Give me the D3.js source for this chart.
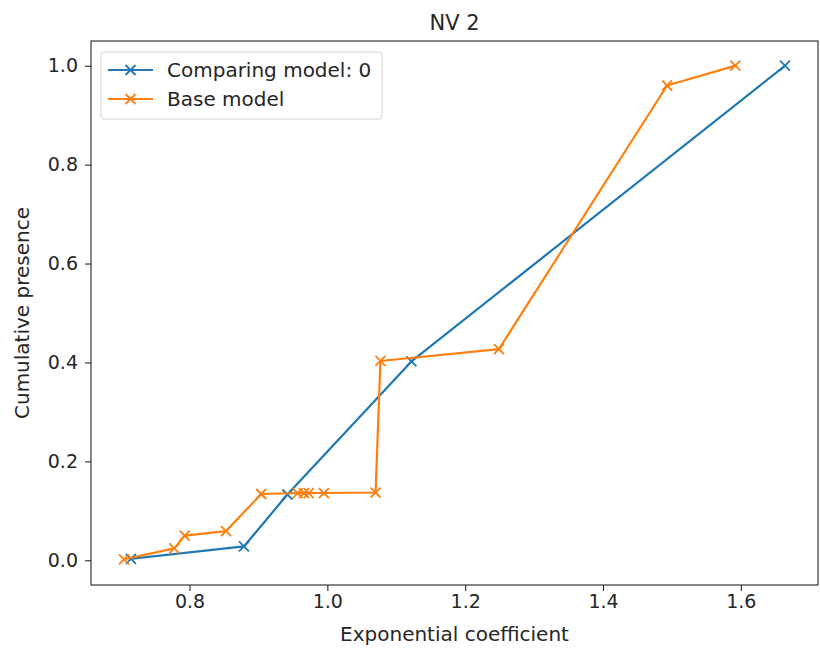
<!DOCTYPE html>
<html>
<head>
    <meta charset="utf-8">
    <script src="https://d3js.org/d3.v7.min.js"></script>
    <style>
        body { margin: 0; background: #fff; }
        text { font-family: "DejaVu Sans", sans-serif; fill: #262626; }
    </style>
</head>
<body>
<script>
    // data
    var comparingX = [0.715, 0.879, 0.942, 1.122, 1.664];
    var comparingY = [0.003, 0.028, 0.133, 0.402, 1.0];

    var baseX = [0.705, 0.778, 0.793, 0.853, 0.904, 0.957, 0.966, 0.973, 0.995, 1.070, 1.077, 1.249, 1.493, 1.592];
    var baseY = [0.002, 0.024, 0.050, 0.059, 0.134, 0.136, 0.136, 0.136, 0.136, 0.137, 0.403, 0.427, 0.960, 1.0];

    var xTicks = [0.8, 1.0, 1.2, 1.4, 1.6];
    var yTicks = [0.0, 0.2, 0.4, 0.6, 0.8, 1.0];

    var seriesNames = ["Comparing model: 0", "Base model"];
    var colors = ["#1f77b4", "#ff7f0e"];

    var series = [
        comparingX.map(function (x, i) { return { x: x, y: comparingY[i] } }),
        baseX.map(function (x, i) { return { x: x, y: baseY[i] } })
    ];

    var outerWidth = 820, outerHeight = 654,
        margin = { top: 41, right: 2, bottom: 69, left: 91 };
    var width = outerWidth - margin.left - margin.right,
        height = outerHeight - margin.top - margin.bottom;

    var svg = d3.select("body").append("svg")
        .attr("width", outerWidth).attr("height", outerHeight);
    var g = svg.append("g")
        .attr("transform", "translate(" + margin.left + "," + margin.top + ")");

    // matplotlib style 5% padding around the data
    var allX = comparingX.concat(baseX);
    var xMin = d3.min(allX), xMax = d3.max(allX), xPad = (xMax - xMin) * 0.05;
    var xScale = d3.scaleLinear().domain([xMin - xPad, xMax + xPad]).range([0, width]);
    var yScale = d3.scaleLinear().domain([-0.05, 1.05]).range([height, 0]);

    var xAxis = g.append("g")
        .attr("transform", "translate(0," + height + ")")
        .call(d3.axisBottom(xScale).tickValues(xTicks).tickFormat(d3.format(".1f")).tickSize(6).tickPadding(4));
    var yAxis = g.append("g")
        .call(d3.axisLeft(yScale).tickValues(yTicks).tickFormat(d3.format(".1f")).tickSize(6).tickPadding(7));

    [xAxis, yAxis].forEach(function (a) {
        a.select(".domain").remove();
        a.selectAll("line").attr("stroke", "#262626").attr("stroke-width", 1.1);
        a.selectAll("text").style("font-size", "19px").attr("fill", "#262626");
    });

    // frame
    g.append("rect")
        .attr("width", width).attr("height", height)
        .attr("fill", "none").attr("stroke", "#262626").attr("stroke-width", 1.1);

    var line = d3.line()
        .x(function (d) { return xScale(d.x); })
        .y(function (d) { return yScale(d.y); });

    var cross = "M-5,-5L5,5M-5,5L5,-5";

    series.forEach(function (s, i) {
        g.append("path")
            .datum(s)
            .attr("fill", "none")
            .attr("stroke", colors[i])
            .attr("stroke-width", 2.2)
            .attr("stroke-linejoin", "round")
            .attr("stroke-linecap", "square")
            .attr("d", line);
        g.selectAll(".mark" + i)
            .data(s)
            .enter().append("path")
            .attr("class", "mark" + i)
            .attr("transform", function (d) { return "translate(" + xScale(d.x) + "," + yScale(d.y) + ")"; })
            .attr("d", cross)
            .attr("stroke", colors[i])
            .attr("stroke-width", 1.8)
            .attr("fill", "none");
    });

    // legend
    var legend = g.append("g").attr("transform", "translate(10,11)");
    legend.append("rect")
        .attr("width", 281).attr("height", 67).attr("rx", 3)
        .attr("fill", "#fff").attr("fill-opacity", 0.8)
        .attr("stroke", "#d6d6d6").attr("stroke-width", 1);
    seriesNames.forEach(function (name, i) {
        var row = legend.append("g").attr("transform", "translate(0," + (18 + i * 29) + ")");
        row.append("line")
            .attr("x1", 7).attr("x2", 52)
            .attr("stroke", colors[i]).attr("stroke-width", 2.2);
        row.append("path")
            .attr("transform", "translate(29.5,0)")
            .attr("d", cross)
            .attr("stroke", colors[i]).attr("stroke-width", 1.8).attr("fill", "none");
        row.append("text")
            .attr("x", 66).attr("dy", "0.35em")
            .style("font-size", "20px")
            .text(name);
    });

    // titles
    svg.append("text")
        .attr("x", margin.left + width / 2).attr("y", 30)
        .attr("text-anchor", "middle")
        .style("font-size", "21px")
        .text("NV 2");
    svg.append("text")
        .attr("x", margin.left + width / 2).attr("y", 641)
        .attr("text-anchor", "middle")
        .style("font-size", "20px")
        .text("Exponential coefficient");
    svg.append("text")
        .attr("transform", "translate(29," + (margin.top + height / 2) + ") rotate(-90)")
        .attr("text-anchor", "middle")
        .style("font-size", "20px")
        .text("Cumulative presence");
</script>
</body>
</html>
